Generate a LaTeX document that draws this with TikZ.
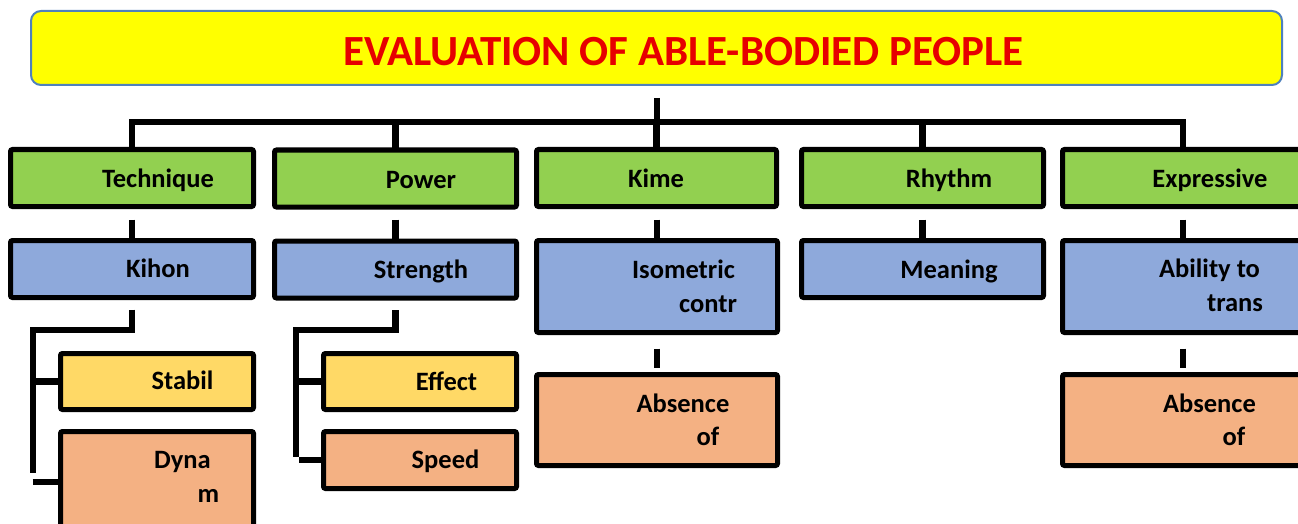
\documentclass[tikz,border=0pt]{standalone}
\usepackage{fontspec}
\setmainfont{Carlito}
\usetikzlibrary{calc}
\definecolor{tyel}{HTML}{FFFF00}
\definecolor{tborder}{HTML}{4F81BD}
\definecolor{tred}{HTML}{E60000}
\definecolor{cgreen}{HTML}{92D050}
\definecolor{cblue}{HTML}{8EA9DB}
\definecolor{cyel}{HTML}{FFD966}
\definecolor{corange}{HTML}{F4B183}
\begin{document}
\begin{tikzpicture}[x=1pt,y=-1pt,
  box/.style={draw=black,line width=5pt,rounded corners=2pt,inner sep=0pt},
  gbox/.style={box,fill=cgreen,minimum height=57pt},
  bbox/.style={box,fill=cblue},
  ybox/.style={box,fill=cyel},
  obox/.style={box,fill=corange},
  lbl/.style={anchor=base,inner sep=0pt,font=\fontsize{26.5}{30}\selectfont\bfseries},
  con/.style={line width=6.5pt,draw=black}]
\useasboundingbox (0,0) rectangle (1298,524);
% title
\node[draw=tborder,line width=2pt,fill=tyel,rounded corners=10pt,minimum width=1251pt,minimum height=74pt,inner sep=0pt] (title) at (656.5,48) {};
\node[anchor=base,inner sep=0pt,text=tred,font=\fontsize{43}{48}\selectfont\bfseries] (ttext) at (683.5,66) {EVALUATION OF ABLE-BODIED PEOPLE};
% green row
\node[gbox,minimum width=243pt] (tech) at (132,178) {};
\node[gbox,minimum width=242pt] (power) at (395.5,178.5) {};
\node[gbox,minimum width=240pt] (kime) at (656.5,178) {};
\node[gbox,minimum width=242pt] (rhythm) at (922.5,178) {};
\node[gbox,minimum width=241pt] (expr) at (1183,178) {};
% blue row
\node[bbox,minimum width=243pt,minimum height=57pt] (kihon) at (132,269) {};
\node[bbox,minimum width=242pt,minimum height=57pt] (strength) at (395.5,269.5) {};
\node[bbox,minimum width=241pt,minimum height=92pt] (iso) at (657,286.5) {};
\node[bbox,minimum width=242pt,minimum height=57pt] (meaning) at (922.5,269) {};
\node[bbox,minimum width=241pt,minimum height=92pt] (ability) at (1183,286.5) {};
% bottom rows
\node[ybox,minimum width=193pt,minimum height=56pt] (stabil) at (157,381.5) {};
\node[obox,minimum width=193pt,minimum height=101pt] (dyna) at (157,482) {};
\node[ybox,minimum width=193pt,minimum height=56pt] (effect) at (420,381.5) {};
\node[obox,minimum width=193pt,minimum height=57pt] (speed) at (420,460) {};
\node[obox,minimum width=241pt,minimum height=91pt] (abs1) at (657,420) {};
\node[obox,minimum width=241pt,minimum height=91pt] (abs2) at (1183,420) {};
% labels
\node[lbl] (ltech) at (158,187) {Technique};
\node[lbl] (lpower) at (421,188) {Power};
\node[lbl] (lkime) at (656,187) {Kime};
\node[lbl] (lrhythm) at (949,187) {Rhythm};
\node[lbl] (lexpr) at (1210,187) {Expressive};
\node[lbl] (lkihon) at (158,277) {Kihon};
\node[lbl] (lstrength) at (421,278) {Strength};
\node[lbl] (lmeaning) at (949,278) {Meaning};
\node[lbl] (liso1) at (683.5,278) {Isometric};
\node[lbl] (liso2) at (708,312) {contr};
\node[lbl] (labsa1) at (683,412) {Absence};
\node[lbl] (labsa2) at (708,445) {of};
\node[lbl] (labil1) at (1209.5,277) {Ability to};
\node[lbl] (labil2) at (1235,311) {trans};
\node[lbl] (labsb1) at (1209.5,412) {Absence};
\node[lbl] (labsb2) at (1234,445) {of};
\node[lbl] (lstabil) at (182.5,389) {Stabil};
\node[lbl] (ldyna1) at (182.5,468) {Dyna};
\node[lbl] (ldyna2) at (208.5,502) {m};
\node[lbl] (leffect) at (446.5,390) {Effect};
\node[lbl] (lspeed) at (445.5,468) {Speed};
% connectors: title to green row
\coordinate (bar) at (657,122);
\draw[con] ([yshift=-12pt]title.south -| bar) -- ([yshift=-2pt]kime.north -| bar);
\draw[con] ([xshift=-3pt]tech.north |- bar) -- ([xshift=3pt]expr.north |- bar);
\foreach \n in {tech,power,kime,rhythm,expr}{
  \draw[con] (\n.north |- bar) -- ([yshift=-2pt]\n.north);
}
% green to blue
\draw[con] ([yshift=-10.5pt]tech.south) -- (kihon.north);
\draw[con] ([yshift=-10pt]power.south) -- (strength.north);
\draw[con] ([yshift=-10.5pt]kime.south -| iso.north) -- (iso.north);
\draw[con] ([yshift=-10.5pt]rhythm.south) -- (meaning.north);
\draw[con] ([yshift=-10.5pt]expr.south) -- (ability.north);
% blue to bottom
\draw[con] ([yshift=-13.5pt]iso.south) -- ([yshift=4.5pt]abs1.north);
\draw[con] ([yshift=-13.5pt]ability.south) -- ([yshift=4.5pt]abs2.north);
% technique branch
\coordinate (tv) at (33,330);
\draw[con] ([yshift=-9.5pt]kihon.south) |- (tv) -- (33,473);
\draw[con] (stabil.west -| tv) -- (stabil.west);
\draw[con] ([xshift=-25.5pt]dyna.west) -- (dyna.west);
% power branch
\coordinate (pv) at (296,330);
\draw[con] ([yshift=-9.5pt]strength.south) |- (pv) -- (296,457);
\draw[con] (effect.west -| pv) -- (effect.west);
\draw[con] ([xshift=-22pt]speed.west) -- (speed.west);
\end{tikzpicture}
\end{document}
